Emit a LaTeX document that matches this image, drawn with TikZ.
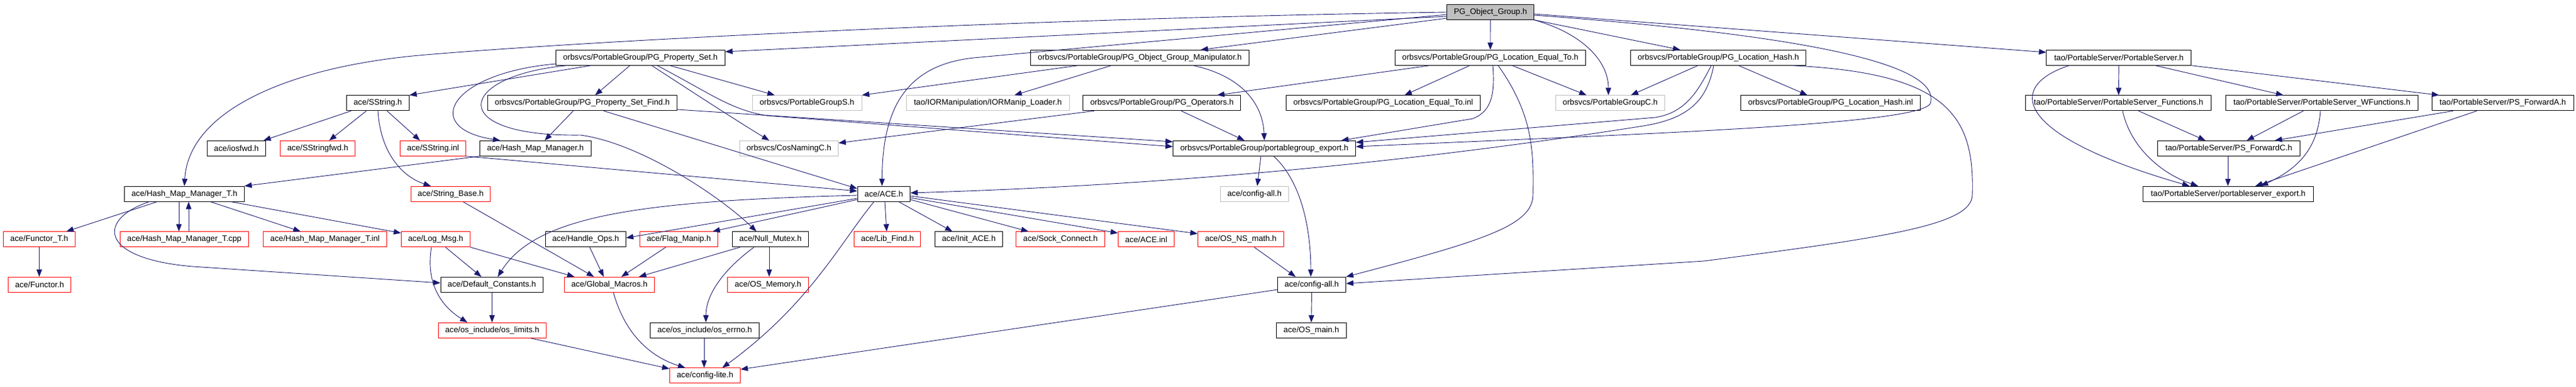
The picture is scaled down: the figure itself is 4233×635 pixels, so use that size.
\documentclass[tikz,border=0pt]{standalone}
\usepackage{fontspec}
\setmainfont{Liberation Sans}
\usetikzlibrary{arrows.meta}
\definecolor{edgec}{HTML}{191970}
\definecolor{grayc}{HTML}{BFBFBF}
\definecolor{redc}{HTML}{FF0000}
\newcommand{\fsz}{\fontsize{13.25}{15}\selectfont}
\begin{document}
\begin{tikzpicture}[x=1pt,y=-1pt,
  nbox/.style={draw, line width=0.9pt, inner sep=0pt, minimum height=25pt, font=\fsz, anchor=center},
  bk/.style={nbox, draw=black},
  rd/.style={nbox, draw=redc},
  gy/.style={nbox, draw=grayc},
  edg/.style={draw=edgec, line width=0.9pt, -{Triangle[length=12pt,width=9pt]}}]
\useasboundingbox[fill=white] (0,0) rectangle (4233,635);
% row 0
\node[bk,fill=grayc,minimum width=143pt] (root) at (2449.1,19.8) {PG\_Object\_Group.h};
% row 1
\node[bk,minimum width=278pt] (ps) at (1052.3,94.8) {orbsvcs/PortableGroup/PG\_Property\_Set.h};
\node[bk,minimum width=359pt] (ogm) at (1873,94.8) {orbsvcs/PortableGroup/PG\_Object\_Group\_Manipulator.h};
\node[bk,minimum width=313pt] (let) at (2448.9,94.8) {orbsvcs/PortableGroup/PG\_Location\_Equal\_To.h};
\node[bk,minimum width=288pt] (lh) at (2823.6,94.8) {orbsvcs/PortableGroup/PG\_Location\_Hash.h};
\node[bk,minimum width=238pt] (psv) at (3481.9,94.8) {tao/PortableServer/PortableServer.h};
% row 2
\node[bk,minimum width=103pt] (ss) at (620.8,169.3) {ace/SString.h};
\node[bk,minimum width=311.5pt] (psf) at (956.8,169.3) {orbsvcs/PortableGroup/PG\_Property\_Set\_Find.h};
\node[gy,minimum width=180pt] (pgs) at (1326,169.3) {orbsvcs/PortableGroupS.h};
\node[gy,minimum width=268pt] (ior) at (1623.3,169.3) {tao/IORManipulation/IORManip\_Loader.h};
\node[bk,minimum width=259pt] (ops) at (1909.4,169.3) {orbsvcs/PortableGroup/PG\_Operators.h};
\node[bk,minimum width=319pt] (leti) at (2273,169.3) {orbsvcs/PortableGroup/PG\_Location\_Equal\_To.inl};
\node[gy,minimum width=179pt] (pgc) at (2646,169.3) {orbsvcs/PortableGroupC.h};
\node[bk,minimum width=295pt] (lhi) at (3008,169.3) {orbsvcs/PortableGroup/PG\_Location\_Hash.inl};
\node[bk,minimum width=305pt] (psfn) at (3481.4,169.3) {tao/PortableServer/PortableServer\_Functions.h};
\node[bk,minimum width=316pt] (wf) at (3815.5,169.3) {tao/PortableServer/PortableServer\_WFunctions.h};
\node[bk,minimum width=233pt] (pfa) at (4112.7,169.3) {tao/PortableServer/PS\_ForwardA.h};
% row 3
\node[bk,minimum width=96pt] (ios) at (388.5,243.8) {ace/iosfwd.h};
\node[rd,minimum width=123pt] (ssf) at (522.1,243.8) {ace/SStringfwd.h};
\node[rd,minimum width=108pt] (ssi) at (711.6,243.8) {ace/SString.inl};
\node[bk,minimum width=183pt] (hmm) at (879.8,243.8) {ace/Hash\_Map\_Manager.h};
\node[gy,minimum width=162pt] (cos) at (1296.4,243.8) {orbsvcs/CosNamingC.h};
\node[bk,minimum width=300pt] (exp) at (2077.6,243.8) {orbsvcs/PortableGroup/portablegroup\_export.h};
\node[bk,minimum width=234pt] (pfc) at (3662.5,243.8) {tao/PortableServer/PS\_ForwardC.h};
% row 4
\node[bk,minimum width=196.5pt] (hmt) at (303,318.7) {ace/Hash\_Map\_Manager\_T.h};
\node[rd,minimum width=130pt] (sb) at (740.6,318.7) {ace/String\_Base.h};
\node[bk,minimum width=86.4pt] (ace) at (1452.3,318.7) {ace/ACE.h};
\node[gy,minimum width=112pt] (cag) at (2061.3,318.7) {ace/config-all.h};
\node[bk,minimum width=280pt] (pse) at (3661.5,318.7) {tao/PortableServer/portableserver\_export.h};
% row 5
\node[rd,minimum width=118pt] (ft) at (64.5,393.3) {ace/Functor\_T.h};
\node[rd,minimum width=211pt] (hmc) at (302.9,393.3) {ace/Hash\_Map\_Manager\_T.cpp};
\node[rd,minimum width=203pt] (hmi) at (534,393.3) {ace/Hash\_Map\_Manager\_T.inl};
\node[rd,minimum width=113pt] (lm) at (715.9,393.3) {ace/Log\_Msg.h};
\node[bk,minimum width=132pt] (ho) at (962.4,393.3) {ace/Handle\_Ops.h};
\node[rd,minimum width=128pt] (fm) at (1115.5,393.3) {ace/Flag\_Manip.h};
\node[bk,minimum width=125pt] (nm) at (1266,393.3) {ace/Null\_Mutex.h};
\node[rd,minimum width=109pt] (lf) at (1458.2,393.3) {ace/Lib\_Find.h};
\node[bk,minimum width=111pt] (ia) at (1592,393.3) {ace/Init\_ACE.h};
\node[rd,minimum width=146pt] (sc) at (1742.6,393.3) {ace/Sock\_Connect.h};
\node[rd,minimum width=92pt] (ai) at (1883.4,393.3) {ace/ACE.inl};
\node[rd,minimum width=141pt] (nsm) at (2038.9,393.3) {ace/OS\_NS\_math.h};
% row 6
\node[rd,minimum width=103pt] (fu) at (65,467.8) {ace/Functor.h};
\node[bk,minimum width=168pt] (dc) at (808.2,467.8) {ace/Default\_Constants.h};
\node[rd,minimum width=148pt] (gm) at (1001.4,467.8) {ace/Global\_Macros.h};
\node[rd,minimum width=133pt] (om) at (1262,467.8) {ace/OS\_Memory.h};
\node[bk,minimum width=112pt] (ca) at (2155.5,467.8) {ace/config-all.h};
% row 7
\node[rd,minimum width=177pt] (ol) at (808.9,542.8) {ace/os\_include/os\_limits.h};
\node[bk,minimum width=179pt] (oe) at (1158,542.8) {ace/os\_include/os\_errno.h};
\node[bk,minimum width=115pt] (osm) at (2154.8,542.8) {ace/OS\_main.h};
% row 8
\node[rd,minimum width=116pt] (cl) at (1158.5,617.3) {ace/config-lite.h};

% ---- edges from root
\draw[edg] (root.west |- 0,20) .. controls (1700,30) and (1000,65) .. (700,90) .. controls (480,108) and (310,180) .. (hmt.north);
\draw[edg] (root.west |- 0,27) -- (ps.east |- 0,85);
\draw[edg] (root.west |- 0,24) -- (1600,95) .. controls (1480,108) and (1450,190) .. ([xshift=-3pt]ace.north);
\draw[edg] (root.west |- 0,30) -- (1973,0 |- ogm.north);
\draw[edg] (root.south) -- (let.north);
\draw[edg] (root.south east) .. controls (2600,55) and (2643,100) .. ([xshift=-3pt]pgc.north);
\draw[edg] (root.south east) -- (2761,0 |- lh.north);
\draw[edg] (root.east |- 0,23) -- (psv.west |- 0,86);
\draw[edg] (root.east |- 0,25) .. controls (3000,60) and (3190,110) .. (3172,170) .. controls (3155,205) and (2700,220) .. (exp.east |- 0,241);
% ---- PG_Property_Set
\draw[edg] (971,0 |- ps.south) -- (ss.north east);
\draw[edg] (1035,0 |- ps.south) -- (978,0 |- psf.north);
\draw[edg] (1101,0 |- ps.south) -- (1273,0 |- pgs.north);
\draw[edg] (1071,0 |- ps.south) .. controls (1110,133) and (1200,192) .. (1264,0 |- cos.north);
\draw[edg] (1080,0 |- ps.south) .. controls (1170,155) and (1200,180) .. (1260,190) -- (exp.west |- 0,241);
\draw[edg] (ps.west |- 0,105) .. controls (740,120) and (690,210) .. (822,0 |- hmm.north);
\draw[edg] (931,0 |- ps.south) .. controls (750,125) and (730,225) .. (954,222) .. controls (1050,235) and (1180,320) .. (1243,0 |- nm.north);
% ---- PG_Property_Set_Find
\draw[edg] (942,0 |- psf.south) -- (895,0 |- hmm.north);
\draw[edg] (992,0 |- psf.south) -- (ace.west |- 0,310);
\draw[edg] (psf.east |- 0,180) -- (exp.west |- 0,233);
% ---- SString
\draw[edg] (577,0 |- ss.south) -- (433,0 |- ios.north);
\draw[edg] (602,0 |- ss.south) -- (541,0 |- ssf.north);
\draw[edg] (636,0 |- ss.south) -- (690,0 |- ssi.north);
\draw[edg] (621,0 |- ss.south) .. controls (625,250) and (660,290) .. (708,0 |- sb.north);
\draw[edg] (ssi.south east) -- (ace.west |- 0,314);
\draw[edg] (hmm.south west) -- (hmt.north east);
% ---- Hash_Map_Manager_T
\draw[edg] (258,0 |- hmt.south) -- (109,0 |- ft.north);
\draw[edg] (294,0 |- hmt.south) -- (294,0 |- hmc.north);
\draw[edg] (310,0 |- hmc.north) -- (310,0 |- hmt.south);
\draw[edg] (346,0 |- hmt.south) -- (494,0 |- hmi.north);
\draw[edg] (380,0 |- hmt.south) -- (lm.west |- 0,383);
\draw[edg] (245,0 |- hmt.south) .. controls (160,360) and (160,425) .. (317,438) -- (dc.west |- 0,465);
\draw[edg] (64.5,0 |- ft.south) -- (64.5,0 |- fu.north);
% ---- Log_Msg
\draw[edg] (732,0 |- lm.south) -- (791,0 |- dc.north);
\draw[edg] (lm.south east) -- (944,0 |- gm.north);
\draw[edg] (709,0 |- lm.south) .. controls (700,460) and (720,500) .. (768,0 |- ol.north);
% ---- ACE
\draw[edg] (ace.west |- 0,321) .. controls (1050,330) and (880,355) .. (818,0 |- dc.north);
\draw[edg] (ace.west |- 0,326) -- (ho.east |- 0,391);
\draw[edg] (ace.west |- 0,328) -- (1171,0 |- fm.north);
\draw[edg] (1436,0 |- ace.south) .. controls (1380,400) and (1330,500) .. (1187,0 |- cl.north);
\draw[edg] (1454,0 |- ace.south) -- (1457,0 |- lf.north);
\draw[edg] (1477,0 |- ace.south) -- (1565,0 |- ia.north);
\draw[edg] (ace.east |- 0,328) -- (1690,0 |- sc.north);
\draw[edg] (ace.east |- 0,325) -- (ai.west |- 0,383);
\draw[edg] (ace.east |- 0,322) -- (nsm.west |- 0,384);
\draw[edg] (2061,0 |- nsm.south) -- (2129,0 |- ca.north);
% ---- export
\draw[edg] (2072,0 |- exp.south) -- (2066,0 |- cag.north);
\draw[edg] (2093,0 |- exp.south) .. controls (2140,300) and (2154,380) .. (2154,0 |- ca.north);
% ---- PG_Operators
\draw[edg] (1941,0 |- ops.south) -- (2045,0 |- exp.north);
\draw[edg] (1798,0 |- ops.south) -- (cos.east |- 0,235);
% ---- Manipulator
\draw[edg] (1771,0 |- ogm.south) -- (pgs.north east);
\draw[edg] (1826,0 |- ogm.south) -- (1667,0 |- ior.north);
\draw[edg] (1961,0 |- ogm.south) .. controls (2040,125) and (2075,170) .. (exp.north);
% ---- Location_Equal_To
\draw[edg] (2349,0 |- let.south) -- (2000,0 |- ops.north);
\draw[edg] (2415,0 |- let.south) -- (2308,0 |- leti.north);
\draw[edg] (2485,0 |- let.south) -- (2607,0 |- pgc.north);
\draw[edg] (2453,0 |- let.south) .. controls (2458,165) and (2445,185) .. (2420,195) -- (2204,0 |- exp.north);
\draw[edg] (2462,0 |- let.south) .. controls (2520,190) and (2520,250) .. (2519,320) .. controls (2519,370) and (2440,395) .. (ca.north east);
% ---- Location_Hash
\draw[edg] (2790,0 |- lh.south) -- (2680,0 |- pgc.north);
\draw[edg] (2857,0 |- lh.south) -- (2970,0 |- lhi.north);
\draw[edg] (2812,0 |- lh.south) .. controls (2790,150) and (2770,185) .. (2720,193) -- (exp.east |- 0,234);
\draw[edg] (2816,0 |- lh.south) .. controls (2805,165) and (2775,195) .. (2700,207) .. controls (2300,270) and (1900,305) .. (ace.east |- 0,317);
\draw[edg] (2945,0 |- lh.south) .. controls (3200,120) and (3245,190) .. (3241,320) .. controls (3241,370) and (3100,390) .. (2800,429) -- (ca.east |- 0,466);
% ---- PortableServer
\draw[edg] (psv.south) -- (psfn.north);
\draw[edg] (3400,0 |- psv.south) .. controls (3300,140) and (3300,220) .. (3598,0 |- pse.north);
\draw[edg] (3542,0 |- psv.south) -- (3752,0 |- wf.north);
\draw[edg] (psv.south east) -- (4008,0 |- pfa.north);
\draw[edg] (3514,0 |- psfn.south) -- (3624,0 |- pfc.north);
\draw[edg] (3488,0 |- psfn.south) .. controls (3500,240) and (3550,285) .. (3612,0 |- pse.north);
\draw[edg] (3785,0 |- wf.south) -- (3692,0 |- pfc.north);
\draw[edg] (3813,0 |- wf.south) .. controls (3808,250) and (3770,280) .. (3715,0 |- pse.north);
\draw[edg] (4031,0 |- pfa.south) -- (3738,0 |- pfc.north);
\draw[edg] (4070,0 |- pfa.south) -- (3706,0 |- pse.north);
\draw[edg] (3661,0 |- pfc.south) -- (3661,0 |- pse.north);
% ---- Null_Mutex and lower
\draw[edg] (1216,0 |- nm.south) -- (1050,0 |- gm.north);
\draw[edg] (1264,0 |- nm.south) -- (1264,0 |- om.north);
\draw[edg] (1239,0 |- nm.south) .. controls (1180,450) and (1160,490) .. (1160,0 |- oe.north);
\draw[edg] (761,0 |- sb.south) -- (976,0 |- gm.north);
\draw[edg] (969,0 |- ho.south) -- (992,0 |- gm.north);
\draw[edg] (1094,0 |- fm.south) -- (1021,0 |- gm.north);
\draw[edg] (1008,0 |- gm.south) .. controls (1030,560) and (1080,590) .. (1126,0 |- cl.north);
\draw[edg] (808.5,0 |- dc.south) -- (808.5,0 |- ol.north);
\draw[edg] (872,0 |- ol.south) -- (cl.west |- 0,606);
\draw[edg] (1157,0 |- oe.south) -- (1157,0 |- cl.north);
\draw[edg] (ca.west |- 0,476) -- (cl.east |- 0,607);
\draw[edg] (ca.south) -- (osm.north);
\end{tikzpicture}
\end{document}
